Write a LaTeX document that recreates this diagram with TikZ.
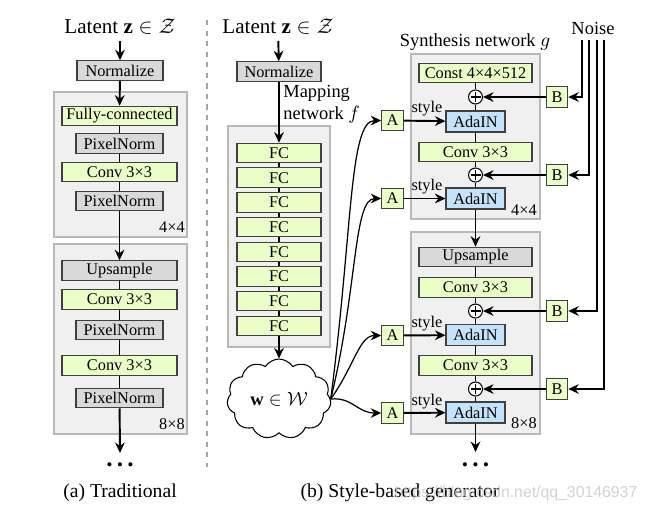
\documentclass[tikz,border=0pt]{standalone}
\usepackage{amsmath}
\usepackage{amssymb}
\usepackage{fontspec}
\setmainfont{Liberation Serif}
\newfontfamily\markfont{Liberation Sans}
\usetikzlibrary{arrows.meta,shapes.symbols}

\definecolor{blockgray}{RGB}{217,217,217}
\definecolor{convgreen}{RGB}{234,255,200}
\definecolor{adablue}{RGB}{196,226,250}
\definecolor{stagegray}{RGB}{240,240,240}

\newcommand{\boxfont}{\fontsize{9.3}{11}\selectfont}

\tikzset{
    block/.style={draw=black!75, line width=0.6pt, inner sep=0pt, minimum height=0.39cm, font=\boxfont},
    normblock/.style={block, fill=blockgray},
    convblock/.style={block, fill=convgreen},
    adablock/.style={block, fill=adablue, minimum width=1.18cm, minimum height=0.42cm},
    affine/.style={block, fill=convgreen, minimum width=0.43cm, minimum height=0.41cm},
    small/.style={font=\boxfont},
    stage/.style={draw=black!28, fill=stagegray, line width=0.7pt},
    flow/.style={-{Stealth[length=6pt,width=5.5pt,inset=2pt]}, line width=1.1pt},
    curve/.style={-{Stealth[length=6pt,width=5.5pt,inset=2pt]}, line width=0.7pt},
    link/.style={line width=0.6pt},
    addop/.style={circle, draw, fill=white, line width=0.6pt, inner sep=0pt, minimum size=0.28cm,
        path picture={\draw[line width=0.6pt] (path picture bounding box.center) ++(-0.1cm,0pt) -- ++(0.2cm,0pt)
            (path picture bounding box.center) ++(0pt,-0.1cm) -- ++(0pt,0.2cm);}},
}

\begin{document}
\begin{tikzpicture}[x=0.02cm, y=-0.02cm, font=\fontsize{10.5}{12.6}\selectfont]
    \useasboundingbox (0,0) rectangle (645,515);

    % (a) traditional
    \draw[stage] (54,92) rectangle (187,237);
    \draw[stage] (54,244) rectangle (187,434);

    \node[font=\large] (latA) at (120,27) {Latent $\mathbf{z}\in\mathcal{Z}$};
    \node[normblock, minimum width=1.72cm] (normA) at (120,70.5) {Normalize};
    \node[convblock, minimum width=2.3cm] (fcA) at (119.5,116) {Fully-connected};
    \node[normblock, minimum width=1.74cm] (pnA1) at (119.5,143.5) {PixelNorm};
    \node[convblock, minimum width=2.3cm] (convA1) at (119.5,172) {Conv 3×3};
    \node[normblock, minimum width=1.74cm] (pnA2) at (119.5,201) {PixelNorm};
    \node[small] (resA1) at (172,227) {4×4};

    \node[normblock, minimum width=2.3cm] (upA) at (119.5,270.5) {Upsample};
    \node[convblock, minimum width=2.3cm] (convA2) at (119.5,299.5) {Conv 3×3};
    \node[normblock, minimum width=1.74cm] (pnA3) at (119.5,330) {PixelNorm};
    \node[convblock, minimum width=2.3cm] (convA3) at (119.5,365.5) {Conv 3×3};
    \node[normblock, minimum width=1.74cm] (pnA4) at (119.5,398) {PixelNorm};
    \node[small] (resA2) at (172,424) {8×8};
    \coordinate (endA) at (120,453);
    \node[font=\Large\bfseries] (dotsA) at (120,465) {.\,.\,.};

    \draw[flow] (latA) -- (normA);
    \draw[flow] (normA) -- (fcA);
    \draw[link] (fcA) -- (pnA1) -- (convA1) -- (pnA2);
    \draw[flow] (pnA2) -- (upA);
    \draw[link] (upA) -- (convA2) -- (pnA3) -- (convA3) -- (pnA4);
    \draw[flow] (pnA4) -- (endA);

    \node[font=\fontsize{11.2}{13}\selectfont] (capA) at (120,493) {(a) Traditional};

    \draw[black!35, dashed, line width=0.7pt] (207,20) -- (207,467);

    % (b) mapping network
    \draw[stage] (228,126) rectangle (330,347);
    \node[font=\large] (latB) at (278,27) {Latent $\mathbf{z}\in\mathcal{Z}$};
    \node[normblock, minimum width=1.68cm] (normB) at (279,71.5) {Normalize};
    \node[anchor=west, align=left, inner sep=0pt] (mapping) at (283,104) {Mapping\\network $f$};
    \foreach \i in {1,...,8}
        \node[convblock, minimum width=1.68cm] (fc\i) at (279,{153+(\i-1)*24.7}) {FC};
    \foreach \i [count=\j from 2] in {1,...,7}
        \draw[link] (fc\i) -- (fc\j);
    \node[cloud, cloud puffs=11, cloud puff arc=115, aspect=1.3, draw, fill=white, line width=0.6pt,
        minimum width=2.08cm, minimum height=1.6cm, inner sep=0pt] (w) at (279,399) {$\mathbf{w}\in\mathcal{W}$};

    \draw[flow] (latB) -- (normB);
    \draw[flow] (normB) -- (fc1);
    \draw[flow] (fc8) -- (w);

    % (b) synthesis network
    \draw[stage] (411,54) rectangle (540,219);
    \draw[stage] (411,232) rectangle (540,434);
    \node (synth) at (475,42) {Synthesis network $g$};
    \node (noise) at (593,28) {Noise};

    \node[convblock, minimum width=2.26cm] (const) at (475.5,73) {Const 4×4×512};
    \node[addop] (add1) at (475.5,97) {};
    \node[adablock] (ada1) at (475.5,121.5) {AdaIN};
    \node[convblock, minimum width=2.26cm] (convB1) at (475.5,152) {Conv 3×3};
    \node[addop] (add2) at (475.5,175) {};
    \node[adablock] (ada2) at (475.5,198.5) {AdaIN};
    \node[small] (resB1) at (524,210) {4×4};

    \node[normblock, minimum width=2.26cm] (upB) at (475.5,257) {Upsample};
    \node[convblock, minimum width=2.26cm] (convB2) at (475.5,287.5) {Conv 3×3};
    \node[addop] (add3) at (475.5,311) {};
    \node[adablock] (ada3) at (475.5,335) {AdaIN};
    \node[convblock, minimum width=2.26cm] (convB3) at (475.5,365.5) {Conv 3×3};
    \node[addop] (add4) at (475.5,389) {};
    \node[adablock] (ada4) at (475.5,412.5) {AdaIN};
    \node[small] (resB2) at (524,423) {8×8};
    \coordinate (endB) at (475.5,452);
    \node[font=\Large\bfseries] (dotsB) at (475.5,465) {.\,.\,.};

    \draw[link] (const) -- (add1) -- (ada1) -- (convB1) -- (add2) -- (ada2);
    \draw[flow] (ada2) -- (upB);
    \draw[link] (upB) -- (convB2) -- (add3) -- (ada3) -- (convB3) -- (add4) -- (ada4);
    \draw[flow] (ada4) -- (endB);

    % styles and noise
    \foreach \i/\y in {1/120.5, 2/198.5, 3/335.5, 4/413} {
        \node[affine] (a\i) at (392.5,\y) {A};
        \draw[flow] (a\i) -- (ada\i);
        \node[small] (style\i) at (427,\y-11.5) {style};
    }
    \foreach \i/\y/\x in {1/97/582, 2/175/589, 3/311/597, 4/389/604} {
        \node[affine] (b\i) at (557,\y) {B};
        \coordinate (n\i) at (\x,40);
        \draw[flow] (b\i) -- (add\i);
        \draw[flow] (n\i) |- (b\i);
    }

    \draw[curve] (w.east) .. controls +(22,-170) and +(-32,0) .. (a1.west);
    \draw[curve] (w.east) .. controls +(27,-110) and +(-28,0) .. (a2.west);
    \draw[curve] (w.east) .. controls +(24,-34) and +(-22,0) .. (a3.west);
    \draw[curve] (w.east) .. controls +(22,-2) and +(-24,0) .. (a4.west);

    \node[font=\fontsize{11.2}{13}\selectfont] (capB) at (400,493) {(b) Style-based generator};
    \node[text=black!22, font=\markfont\small, opacity=0.8] (mark) at (516,493) {https://blog.csdn.net/qq\_30146937};
\end{tikzpicture}
\end{document}
